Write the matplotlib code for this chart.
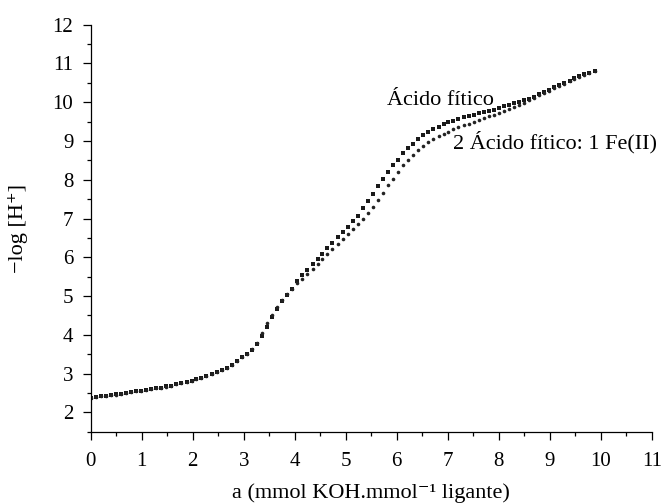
import matplotlib
matplotlib.use("Agg")
import matplotlib.pyplot as plt
from matplotlib.ticker import MultipleLocator

# titration points, a = mmol KOH / mmol ligand
a_vals = [
    0.00, 0.10, 0.20, 0.30, 0.40, 0.49, 0.59, 0.69, 0.79, 0.89,
    0.99, 1.09, 1.19, 1.28, 1.38, 1.48, 1.58, 1.68, 1.78, 1.88,
    1.98, 2.07, 2.17, 2.27, 2.37, 2.47, 2.57, 2.67, 2.77, 2.87,
    2.96, 3.06, 3.16, 3.26, 3.36, 3.46, 3.56, 3.66, 3.75, 3.85,
    3.95, 4.05, 4.15, 4.25, 4.35, 4.45, 4.54, 4.64, 4.74, 4.84,
    4.94, 5.04, 5.14, 5.24, 5.34, 5.43, 5.53, 5.63, 5.73, 5.83,
    5.93, 6.03, 6.13, 6.22, 6.32, 6.42, 6.52, 6.62, 6.72, 6.82,
    6.92, 7.01, 7.11, 7.21, 7.31, 7.41, 7.51, 7.61, 7.71, 7.81,
    7.90, 8.00, 8.10, 8.20, 8.30, 8.40, 8.50, 8.60, 8.69, 8.79,
    8.89, 8.99, 9.09, 9.19, 9.29, 9.39, 9.48, 9.58, 9.68, 9.78,
    9.88,
]

# -log[H+] for phytic acid alone (squares)
ph_fitico = [
    2.38, 2.40, 2.41, 2.43, 2.45, 2.47, 2.48, 2.50, 2.52, 2.54,
    2.56, 2.58, 2.60, 2.62, 2.64, 2.67, 2.69, 2.72, 2.75, 2.78,
    2.82, 2.85, 2.89, 2.93, 2.98, 3.03, 3.09, 3.15, 3.23, 3.32,
    3.42, 3.51, 3.62, 3.77, 3.98, 4.20, 4.45, 4.66, 4.86, 5.03,
    5.18, 5.38, 5.55, 5.68, 5.83, 5.96, 6.09, 6.25, 6.38, 6.52,
    6.65, 6.77, 6.93, 7.07, 7.26, 7.44, 7.64, 7.85, 8.03, 8.21,
    8.37, 8.52, 8.68, 8.81, 8.92, 9.04, 9.15, 9.24, 9.31, 9.36,
    9.43, 9.48, 9.52, 9.56, 9.61, 9.64, 9.67, 9.71, 9.74, 9.78,
    9.81, 9.85, 9.89, 9.93, 9.97, 10.01, 10.05, 10.09, 10.14, 10.20,
    10.26, 10.32, 10.38, 10.44, 10.50, 10.56, 10.62, 10.67, 10.72, 10.76,
    10.81,
]

# -log[H+] for 2 phytic acid : 1 Fe(II) (circles)
ph_fe = [
    2.37, 2.39, 2.41, 2.43, 2.45, 2.46, 2.48, 2.50, 2.52, 2.54,
    2.56, 2.58, 2.60, 2.62, 2.64, 2.66, 2.69, 2.72, 2.75, 2.78,
    2.81, 2.85, 2.89, 2.93, 2.98, 3.03, 3.09, 3.15, 3.23, 3.32,
    3.42, 3.51, 3.63, 3.80, 4.04, 4.30, 4.52, 4.72, 4.90, 5.05,
    5.19, 5.33, 5.45, 5.58, 5.71, 5.83, 5.96, 6.08, 6.21, 6.33,
    6.46, 6.59, 6.73, 6.85, 7.00, 7.14, 7.30, 7.48, 7.66, 7.86,
    8.03, 8.20, 8.37, 8.52, 8.65, 8.77, 8.88, 8.97, 9.05, 9.12,
    9.18, 9.24, 9.30, 9.35, 9.40, 9.45, 9.50, 9.55, 9.59, 9.64,
    9.68, 9.73, 9.78, 9.82, 9.87, 9.92, 9.98, 10.06, 10.12, 10.18,
    10.24, 10.30, 10.36, 10.42, 10.48, 10.54, 10.60, 10.65, 10.70, 10.75,
    10.80,
]

label_fitico = "Ácido fítico"
label_fe = "2 Ácido fítico: 1 Fe(II)"

serif = ["Liberation Serif", "DejaVu Serif"]
plt.rcParams["font.family"] = serif

fig = plt.figure(figsize=(6.65, 5.03), dpi=100)
ax = fig.add_axes([0.1364, 0.1417, 0.8436, 0.8092])

ax.plot(a_vals, ph_fitico, linestyle="none", marker="s", markersize=2.2,
        color="#1a1a1a", markeredgewidth=0)
ax.plot(a_vals, ph_fe, linestyle="none", marker="o", markersize=2.6,
        color="#222222", markeredgewidth=0)

ax.text(5.80, 9.93, label_fitico, fontsize=16, ha="left", va="baseline")
ax.text(7.11, 8.81, label_fe, fontsize=16, ha="left", va="baseline",
        clip_on=False)

ax.set_xlim(0, 11)
ax.set_ylim(1.5, 12)
ax.xaxis.set_major_locator(MultipleLocator(1))
ax.xaxis.set_minor_locator(MultipleLocator(0.5))
ax.yaxis.set_major_locator(MultipleLocator(1))
ax.yaxis.set_minor_locator(MultipleLocator(0.5))

for side in ("top", "right"):
    ax.spines[side].set_visible(False)
for side in ("left", "bottom"):
    ax.spines[side].set_linewidth(0.9)

ax.tick_params(which="major", direction="out", length=5.5, width=0.9,
               labelsize=15)
ax.tick_params(which="minor", direction="out", length=3, width=0.9)
ax.tick_params(axis="x", which="major", pad=9)
ax.tick_params(axis="y", which="major", pad=7)

ax.set_xlabel("a (mmol KOH.mmol\u207b\u00b9 ligante)", fontsize=16,
              va="center")
ax.xaxis.set_label_coords(0.5, -0.151)
ax.set_ylabel("\u2212log [H\u207a]", fontsize=16, va="center")
ax.yaxis.set_label_coords(-0.13, 0.5)

fig.savefig("out.png", dpi=100)
